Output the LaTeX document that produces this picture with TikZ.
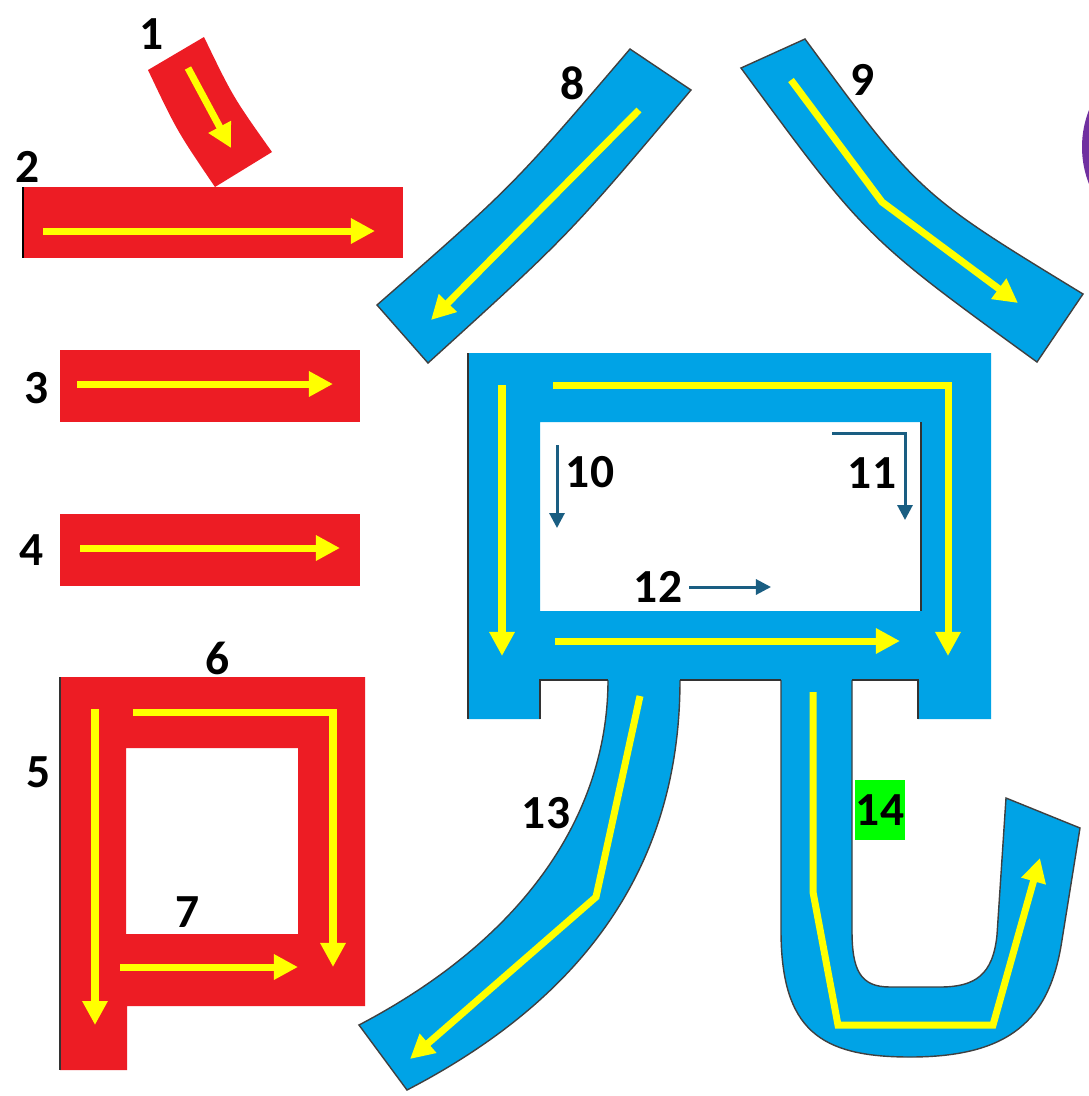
\documentclass[tikz,border=0pt]{standalone}
\usepackage{fontspec}
\setmainfont{Carlito}
\usetikzlibrary{arrows.meta}

\definecolor{strokered}{RGB}{237,28,36}
\definecolor{strokeblue}{RGB}{0,163,230}
\definecolor{guideyellow}{RGB}{255,255,0}
\definecolor{hintblue}{RGB}{26,94,130}
\definecolor{markgreen}{RGB}{0,255,0}
\definecolor{ringpurple}{RGB}{112,48,160}

\tikzset{
  redstroke/.style={fill=strokered},
  bluestroke/.style={fill=strokeblue,draw=black!75,line width=0.4pt},
  guide/.style={draw=guideyellow,line width=0.07cm,-{Triangle[width=0.24cm,length=0.24cm]}},
  hint/.style={draw=hintblue,line width=0.03cm,-{Triangle[width=0.15cm,length=0.15cm]}},
  num/.style={font=\bfseries\fontsize{13.5}{16}\selectfont,inner sep=0pt}
}

\begin{document}
\begin{tikzpicture}[x=0.01cm,y=-0.01cm]
  \clip (0,0) rectangle (1089,1096);
  \fill[white] (0,0) rectangle (1089,1096);

  % Trazos rojos (radical de la izquierda)
  \fill[redstroke] (148,70) -- (204,37) .. controls (233,97) .. (272,152) -- (215,187) .. controls (177,131) .. (148,70) -- cycle;
  \fill[redstroke] (23,187) rectangle (403,258);
  \draw[black,line width=0.5pt] (23,187) -- (23,258);
  \foreach \y/\a/\b in {350/77/333, 514/80/340}{
    \fill[redstroke] (60,\y) rectangle (360,\y+72);
    \draw[guide] (\a,\y+34) -- (\b,\y+34);
  }
  \fill[redstroke,even odd rule] (60,677) -- (365,677) -- (365,1006) -- (127,1006) -- (127,1070) -- (60,1070) -- cycle
    (126,748) rectangle (298,934);
  \draw[black!80,line width=0.5pt] (60,677) -- (60,1070);

  % Flechas amarillas del radical
  \draw[guide] (188,68) -- (231,148);
  \draw[guide] (43,231) -- (375,231);
  \draw[guide] (95,709) -- (95,1025);
  \draw[guide] (133,712) -- (333,712) -- (333,967);
  \draw[guide] (120,967) -- (298,967);

  % Trazos azules de arriba
  \filldraw[bluestroke] (630,49) -- (691,90) .. controls (569,235) .. (428,363) -- (377,305) .. controls (513,186) .. (630,49) -- cycle;
  \filldraw[bluestroke] (741,68) -- (805,39) .. controls (919,194) .. (1083,294) -- (1037,362) .. controls (866,238) .. (741,68) -- cycle;
  \draw[guide] (639,110) -- (431,320);
  \draw[guide] (791,80) -- (882,202) -- (1018,303);

  % Piernas inferiores
  \filldraw[bluestroke] (608,675) -- (608,680) .. controls (608,800) and (540,930) .. (359,1025) -- (407,1090) .. controls (600,990) and (680,850) .. (680,680) -- (680,675) -- cycle;
  \filldraw[bluestroke] (781,675) -- (781,930) .. controls (781,1030) and (820,1057) .. (910,1057) .. controls (1010,1057) and (1050,1020) .. (1062,940) -- (1080,828) -- (1006,798) -- (997,935) .. controls (993,975) and (975,987) .. (940,987) -- (890,987) .. controls (860,987) and (852,970) .. (852,930) -- (852,675) -- cycle;

  % Caja central
  \fill[strokeblue,even odd rule] (468,353) -- (991,353) -- (991,719) -- (918,719) -- (918,680) -- (540,680) -- (540,719) -- (468,719) -- cycle
    (540,422) rectangle (921,611);
  \draw[black!80,line width=0.5pt] (468,353) -- (468,719);
  \draw[black!80,line width=0.5pt] (921,422) -- (921,611);
  \draw[black!80,line width=0.5pt] (540,719) -- (540,680) -- (608,680);
  \draw[black!80,line width=0.5pt] (680,680) -- (781,680);
  \draw[black!80,line width=0.5pt] (852,680) -- (918,680) -- (918,719);

  % Flechas de la caja y de las piernas
  \draw[guide] (502,385) -- (502,656);
  \draw[guide] (553,385) -- (948,385) -- (948,656);
  \draw[guide] (555,641) -- (900,641);
  \draw[guide] (640,696) -- (596,897) -- (410,1059);
  \draw[guide] (813,692) -- (813,892) -- (838,1025) -- (993,1025) -- (1040,858);
  \draw[hint] (557,445) -- (557,528);
  \draw[hint] (832,433) -- (905,433) -- (905,520);
  \draw[hint] (689,587) -- (771,587);

  % Circulo morado en el borde
  \fill[ringpurple] (1183,147) circle (101);

  % Numeros
  \node[num] (n1) at (152,34) {1};
  \node[num] (n2) at (28,167) {2};
  \node[num] (n3) at (37,388) {3};
  \node[num] (n4) at (32,550) {4};
  \node[num] (n5) at (39,772) {5};
  \node[num] (n6) at (218,658) {6};
  \node[num] (n7) at (188,912) {7};
  \node[num] (n8) at (573,83) {8};
  \node[num] (n9) at (863,80) {9};
  \node[num] (n10) at (590,472) {10};
  \node[num] (n11) at (872,473) {11};
  \node[num] (n12) at (658,587) {12};
  \node[num] (n13) at (546,813) {13};
  \node[num,fill=markgreen,minimum width=0.49cm,minimum height=0.59cm] (n14) at (880,810) {14};
\end{tikzpicture}
\end{document}
